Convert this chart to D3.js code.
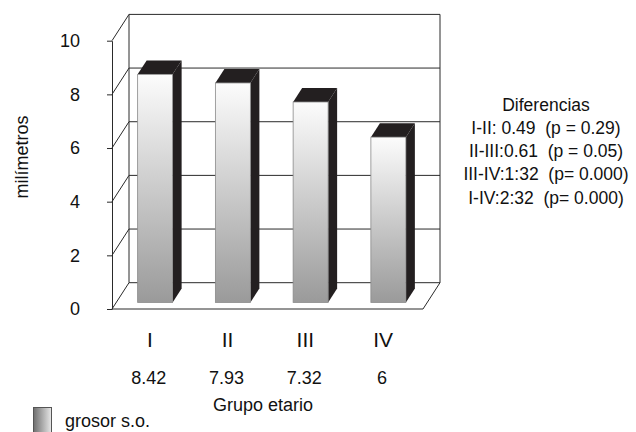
<!DOCTYPE html>
<html>
<head>
<meta charset="utf-8">
<script src="https://cdn.jsdelivr.net/npm/d3@7"></script>
<style>
  html, body { margin: 0; padding: 0; background: #fff; }
  text { font-family: "Liberation Sans", Arial, sans-serif; fill: #111; }
</style>
</head>
<body>
<div id="chart"></div>
<script>
// data
const categories = ['I', 'II', 'III', 'IV'];
const meanLabels = ['8.42', '7.93', '7.32', '6'];
const barValues = [8.5, 8.18, 7.47, 6.16];
const yTicks = [0, 2, 4, 6, 8, 10];
const diffLines = [
  'Diferencias',
  'I-II: 0.49  (p = 0.29)',
  'II-III:0.61  (p = 0.05)',
  'III-IV:1:32  (p= 0.000)',
  'I-IV:2:32  (p= 0.000)'
];
const seriesName = 'grosor s.o.';

const width = 636, height = 432;
const svg = d3.select('#chart').append('svg')
  .attr('width', width).attr('height', height);

const defs = svg.append('defs');
const gFront = defs.append('linearGradient').attr('id', 'barGrad')
  .attr('x1', 0).attr('y1', 0).attr('x2', 0).attr('y2', 1);
gFront.append('stop').attr('offset', '0%').attr('stop-color', '#fcfcfc');
gFront.append('stop').attr('offset', '100%').attr('stop-color', '#9a9a9a');
const gLeg = defs.append('linearGradient').attr('id', 'legGrad')
  .attr('x1', 0).attr('y1', 0).attr('x2', 1).attr('y2', 0);
gLeg.append('stop').attr('offset', '0%').attr('stop-color', '#6e6e6e');
gLeg.append('stop').attr('offset', '100%').attr('stop-color', '#e8e8e8');

// front plane scales, depth goes up-right
const y = d3.scaleLinear().domain([0, 10]).range([309, 40.7]);
const x = d3.scaleBand().domain(categories).range([112, 423])
  .paddingInner(0.55).paddingOuter(0.275);
const depthX = 17, depthY = -26.3;
const shift = f => [f * depthX, f * depthY];

const lineCol = '#2a2a2a';
const grid = svg.append('g').attr('stroke', lineCol).attr('stroke-width', 1).attr('fill', 'none');

// back wall grid + left wall diagonals
yTicks.forEach(t => {
  const yy = y(t);
  grid.append('line').attr('x1', 112).attr('y1', yy).attr('x2', 112 + depthX).attr('y2', yy + depthY);
  grid.append('line').attr('x1', 112 + depthX).attr('y1', yy + depthY).attr('x2', 423 + depthX).attr('y2', yy + depthY);
});
// back wall verticals
grid.append('line').attr('x1', 112 + depthX).attr('y1', y(10) + depthY).attr('x2', 112 + depthX).attr('y2', y(0) + depthY);
grid.append('line').attr('x1', 423 + depthX).attr('y1', y(10) + depthY).attr('x2', 423 + depthX).attr('y2', y(0) + depthY);
// floor
grid.append('line').attr('x1', 112).attr('y1', y(0)).attr('x2', 423).attr('y2', y(0));
grid.append('line').attr('x1', 423).attr('y1', y(0)).attr('x2', 423 + depthX).attr('y2', y(0) + depthY);

// value axis on the front left
const axis = svg.append('g').attr('transform', 'translate(112,0)')
  .call(d3.axisLeft(y).tickValues(yTicks).tickSize(5).tickPadding(27).tickSizeOuter(0));
axis.select('.domain').attr('stroke', lineCol);
axis.selectAll('.tick line').attr('stroke', lineCol);
axis.selectAll('.tick text').attr('font-size', '18px').attr('fill', '#111')
  .attr('font-family', '"Liberation Sans", Arial, sans-serif');

// bars
const [fx, fy] = shift(0.25);
const [bx, by] = shift(0.78);
const ddx = bx - fx, ddy = by - fy;
const bars = svg.append('g');
categories.forEach((c, i) => {
  const x0 = x(c) + fx, x1 = x0 + x.bandwidth();
  const yt = y(barValues[i]) + fy, yb = y(0) + fy;
  const dark = '#231f20';
  bars.append('path')
    .attr('d', `M${x1},${yt}L${x1 + ddx},${yt + ddy}L${x1 + ddx},${yb + ddy}L${x1},${yb}Z`)
    .attr('fill', dark);
  bars.append('path')
    .attr('d', `M${x0},${yt}L${x0 + ddx},${yt + ddy}L${x1 + ddx},${yt + ddy}L${x1},${yt}Z`)
    .attr('fill', dark);
  bars.append('rect')
    .attr('x', x0).attr('y', yt)
    .attr('width', x.bandwidth()).attr('height', yb - yt)
    .attr('fill', 'url(#barGrad)')
    .attr('stroke', '#8a8a8a').attr('stroke-width', 0.8);
});

// category labels and means
const labels = svg.append('g').attr('text-anchor', 'middle');
categories.forEach((c, i) => {
  const cx = x(c) + x.bandwidth() / 2;
  labels.append('text').attr('x', cx - 1).attr('y', 346.5).attr('font-size', '21px').text(c);
  labels.append('text').attr('x', cx - 2).attr('y', 384).attr('font-size', '18px').text(meanLabels[i]);
});
svg.append('text').attr('x', 263).attr('y', 410.5).attr('text-anchor', 'middle')
  .attr('font-size', '18px').text('Grupo etario');

// y axis title
svg.append('text').attr('transform', 'translate(28,157) rotate(-90)')
  .attr('text-anchor', 'middle').attr('font-size', '18px').text('milímetros');

// differences block
const diff = svg.append('g').attr('text-anchor', 'middle');
diffLines.forEach((t, i) => {
  diff.append('text').attr('x', 546).attr('y', 110.7 + i * 23.2)
    .attr('font-size', '17.5px').style('white-space', 'pre').text(t);
});

// legend
svg.append('rect').attr('x', 33.5).attr('y', 407.5).attr('width', 18).attr('height', 26)
  .attr('fill', 'url(#legGrad)').attr('stroke', '#555').attr('stroke-width', 1);
svg.append('text').attr('x', 65).attr('y', 427).attr('font-size', '18px').text(seriesName);
</script>
</body>
</html>
